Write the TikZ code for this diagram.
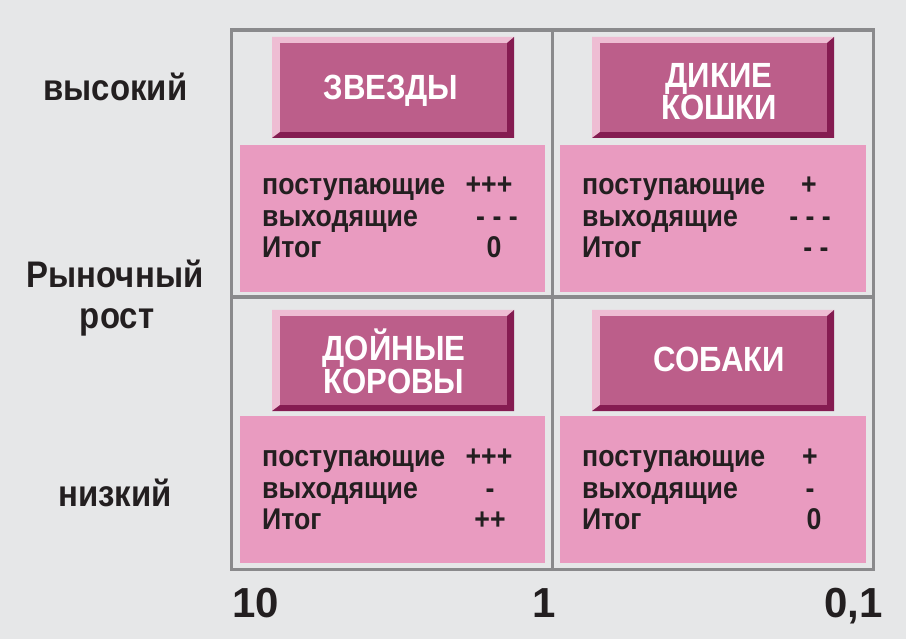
\documentclass[tikz,border=0pt]{standalone}
\usepackage{fontspec}
\setmainfont{Liberation Sans}
\newfontfamily\condf{Liberation Sans}[FakeStretch=0.89]
\definecolor{bgc}{HTML}{E6E7E8}
\definecolor{framec}{HTML}{8A8A8C}
\definecolor{facec}{HTML}{BC5E8A}
\definecolor{lightc}{HTML}{EEBDD3}
\definecolor{darkc}{HTML}{851C51}
\definecolor{infoc}{HTML}{E99BC0}
\definecolor{txtc}{HTML}{231F20}
\newcommand\mybevel[5]{%
  \fill[lightc] (#2,#3) -- (#4,#3) -- (#4-7,#3+6) -- (#2+8,#3+6) -- (#2+8,#5-6) -- (#2,#5) -- cycle;
  \fill[darkc] (#4,#3) -- (#4,#5) -- (#2,#5) -- (#2+8,#5-6) -- (#4-7,#5-6) -- (#4-7,#3+6) -- cycle;
  \node[facebox, minimum width={#4-#2-15}, minimum height={#5-#3-12}] (#1) at ({(#2+#4+1)/2},{(#3+#5)/2}) {};
}
\begin{document}
\begin{tikzpicture}[x=1pt,y=-1pt,
  framebox/.style={draw=framec, line width=3.5pt, inner sep=0pt},
  facebox/.style={fill=facec, inner sep=0pt, draw=none},
  infobox/.style={fill=infoc, inner sep=0pt, draw=none, minimum width=305, minimum height=147},
  ttl/.style={text=white, font=\condf\bfseries\fontsize{35}{40}\selectfont, anchor=base, inner sep=0pt},
  body/.style={text=txtc, font=\condf\bfseries\fontsize{30}{36}\selectfont, anchor=base west, inner sep=0pt},
  sym/.style={text=txtc, font=\condf\bfseries\fontsize{30}{36}\selectfont, anchor=base, inner sep=0pt},
  lbl/.style={text=txtc, font=\condf\bfseries\fontsize{37}{44}\selectfont, anchor=base, inner sep=0pt},
  num/.style={text=txtc, font=\bfseries\fontsize{42}{48}\selectfont, inner sep=0pt}
]
\fill[bgc] (0,0) rectangle (906,639);
\useasboundingbox (0,0) rectangle (906,639);

% frame
\node[framebox, minimum width=642, minimum height=539.5] (frm) at (552.5,299.75) {};
\coordinate (hl) at (231.5,297);
\coordinate (hr) at (873.5,297);
\draw[framec, line width=3.5pt] (frm.north) -- (frm.south);
\draw[framec, line width=3.5pt] (hl) -- (hr);

% info boxes
\node[infobox] (i1) at (392.5,218.5) {};
\node[infobox, minimum width=306] (i2) at (713,218.5) {};
\node[infobox] (i3) at (392.5,489.5) {};
\node[infobox, minimum width=306] (i4) at (713,489.5) {};

% title boxes
\mybevel{t1}{272}{37}{514}{138}
\mybevel{t2}{592}{37}{834}{138}
\mybevel{t3}{272}{310}{514}{411}
\mybevel{t4}{592}{310}{834}{411}

\node[ttl] (t1a) at (391,100) {ЗВЕЗДЫ};
\node[ttl] (t2a) at (719,88) {ДИКИЕ};
\node[ttl] (t2b) at (719,120) {КОШКИ};
\node[ttl] (t3a) at (394,360) {ДОЙНЫЕ};
\node[ttl] (t3b) at (394,393) {КОРОВЫ};
\node[ttl] (t4a) at (719.5,371) {СОБАКИ};

% Q1
\node[body] (q1a) at (262,195) {поступающие};
\node[body] (q1b) at (262,227) {выходящие};
\node[body] (q1c) at (262,258) {Итог};
\node[sym] (q1d) at (489,195) {+++};
\node[sym] (q1e) at (497,227) {- - -};
\node[sym] (q1f) at (494,258) {0};
% Q2
\node[body] (q2a) at (582,195) {поступающие};
\node[body] (q2b) at (582,227) {выходящие};
\node[body] (q2c) at (582,258) {Итог};
\node[sym] (q2d) at (809,195) {+};
\node[sym] (q2e) at (810,227) {- - -};
\node[sym] (q2f) at (816,258) {- -};
% Q3
\node[body] (q3a) at (262,466) {поступающие};
\node[body] (q3b) at (262,498) {выходящие};
\node[body] (q3c) at (262,529) {Итог};
\node[sym] (q3d) at (489,466) {+++};
\node[sym] (q3e) at (490,498) {-};
\node[sym] (q3f) at (490,529) {++};
% Q4
\node[body] (q4a) at (582,466) {поступающие};
\node[body] (q4b) at (582,498) {выходящие};
\node[body] (q4c) at (582,529) {Итог};
\node[sym] (q4d) at (810,466) {+};
\node[sym] (q4e) at (810,498) {-};
\node[sym] (q4f) at (814,529) {0};

% axis labels
\node[lbl] (hi) at (115.5,101) {высокий};
\node[lbl] (mg1) at (115,288) {Рыночный};
\node[lbl] (mg2) at (117,329) {рост};
\node[lbl] (lo) at (115,506) {низкий};

\node[num, anchor=base west] (n10) at (232,617) {10};
\node[num, anchor=base] (n1) at (544,617) {1};
\node[num, anchor=base east] (n01) at (883,617) {0,1};
\end{tikzpicture}
\end{document}
